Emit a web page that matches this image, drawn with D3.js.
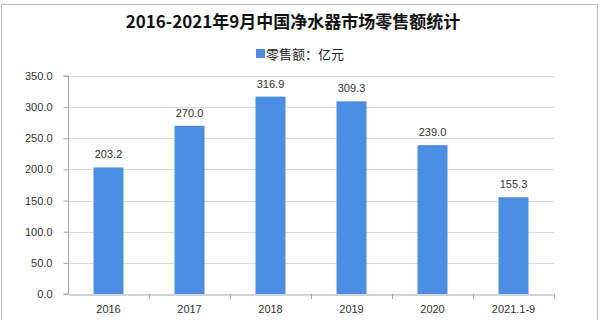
<!DOCTYPE html>
<html><head><meta charset="utf-8">
<script src="https://cdn.jsdelivr.net/npm/d3@7"></script>
<style>body{margin:0;background:#fff}svg{display:block}</style>
</head><body>
<script>
const categories = ["2016","2017","2018","2019","2020","2021.1-9"];
const values = [203.2, 270.0, 316.9, 309.3, 239.0, 155.3];
const yTicks = [0,50,100,150,200,250,300,350];
const title = "2016-2021年9月中国净水器市场零售额统计";
const legendLabel = "零售额：亿元";

const W=600,H=320;
const svg=d3.select("body").append("svg").attr("width",W).attr("height",H);
svg.append("rect").attr("x",1.5).attr("y",4.5).attr("width",596).attr("height",330)
  .attr("fill","#fff").attr("stroke","#bdbdbd");

const m={l:68,r:46,t:76,b:26};
const x=d3.scaleBand().domain(categories).range([m.l,W-m.r]).paddingInner(0.63).paddingOuter(0.315);
const xb=d3.scaleBand().domain(categories).range([m.l,W-m.r]);
const y=d3.scaleLinear().domain([0,350]).range([H-m.b,m.t]);

svg.append("text").attr("x",293).attr("y",28).attr("text-anchor","middle")
  .attr("font-family","'Noto Sans CJK SC'").attr("font-weight","bold").attr("font-size",17)
  .attr("fill","#111").text(title);
const lg=svg.append("g");
lg.append("rect").attr("x",256).attr("y",49).attr("width",9).attr("height",9).attr("fill","#4a8de2");
lg.append("text").attr("x",266).attr("y",59).attr("font-family","'Noto Sans CJK SC'").attr("font-size",13)
  .attr("fill","#222").text(legendLabel);

// grid
svg.append("g").selectAll("line").data(yTicks.filter(d=>d>0)).join("line")
  .attr("x1",m.l).attr("x2",W-m.r).attr("y1",d=>Math.round(y(d))+0.5).attr("y2",d=>Math.round(y(d))+0.5)
  .attr("stroke","#d9d9d9");

const ya=svg.append("g").attr("transform",`translate(${m.l+0.5},0)`)
  .call(d3.axisLeft(y).tickValues(yTicks).tickFormat(d3.format(".1f")).tickSize(5).tickPadding(11));
ya.select(".domain").attr("stroke","#a6a6a6").attr("d",`M-5,${y(350)}H0V${y(0)}H-5`);
ya.selectAll(".tick line").attr("stroke","#a6a6a6");
ya.selectAll("text").attr("font-family","'Liberation Sans'").attr("font-size",11).attr("fill","#333");

svg.append("g").selectAll("rect").data(values).join("rect")
  .attr("x",(d,i)=>x(categories[i])).attr("width",x.bandwidth())
  .attr("y",d=>y(d)).attr("height",d=>y(0)-y(d)).attr("fill","#4a8de2");

const xa=svg.append("g").attr("transform",`translate(0,${Math.round(y(0))+0.5})`)
  .call(d3.axisBottom(xb).tickSize(0).tickPadding(11));
xa.select(".domain").attr("stroke","#a6a6a6");
xa.selectAll("text").attr("font-family","'Liberation Sans'").attr("font-size",11).attr("fill","#333");
// category boundary ticks
svg.append("g").selectAll("line").data(categories).join("line")
  .attr("x1",(d,i)=>Math.round(xb(d)+xb.bandwidth())+0.5)
  .attr("x2",(d,i)=>Math.round(xb(d)+xb.bandwidth())+0.5)
  .attr("y1",y(0)).attr("y2",y(0)+5).attr("stroke","#a6a6a6");

svg.append("g").selectAll("text").data(values).join("text")
  .attr("x",(d,i)=>x(categories[i])+x.bandwidth()/2).attr("y",d=>y(d)-9)
  .attr("text-anchor","middle").attr("font-family","'Liberation Sans'").attr("font-size",11)
  .attr("fill","#333").text(d=>d.toFixed(1));
</script>
</body></html>
